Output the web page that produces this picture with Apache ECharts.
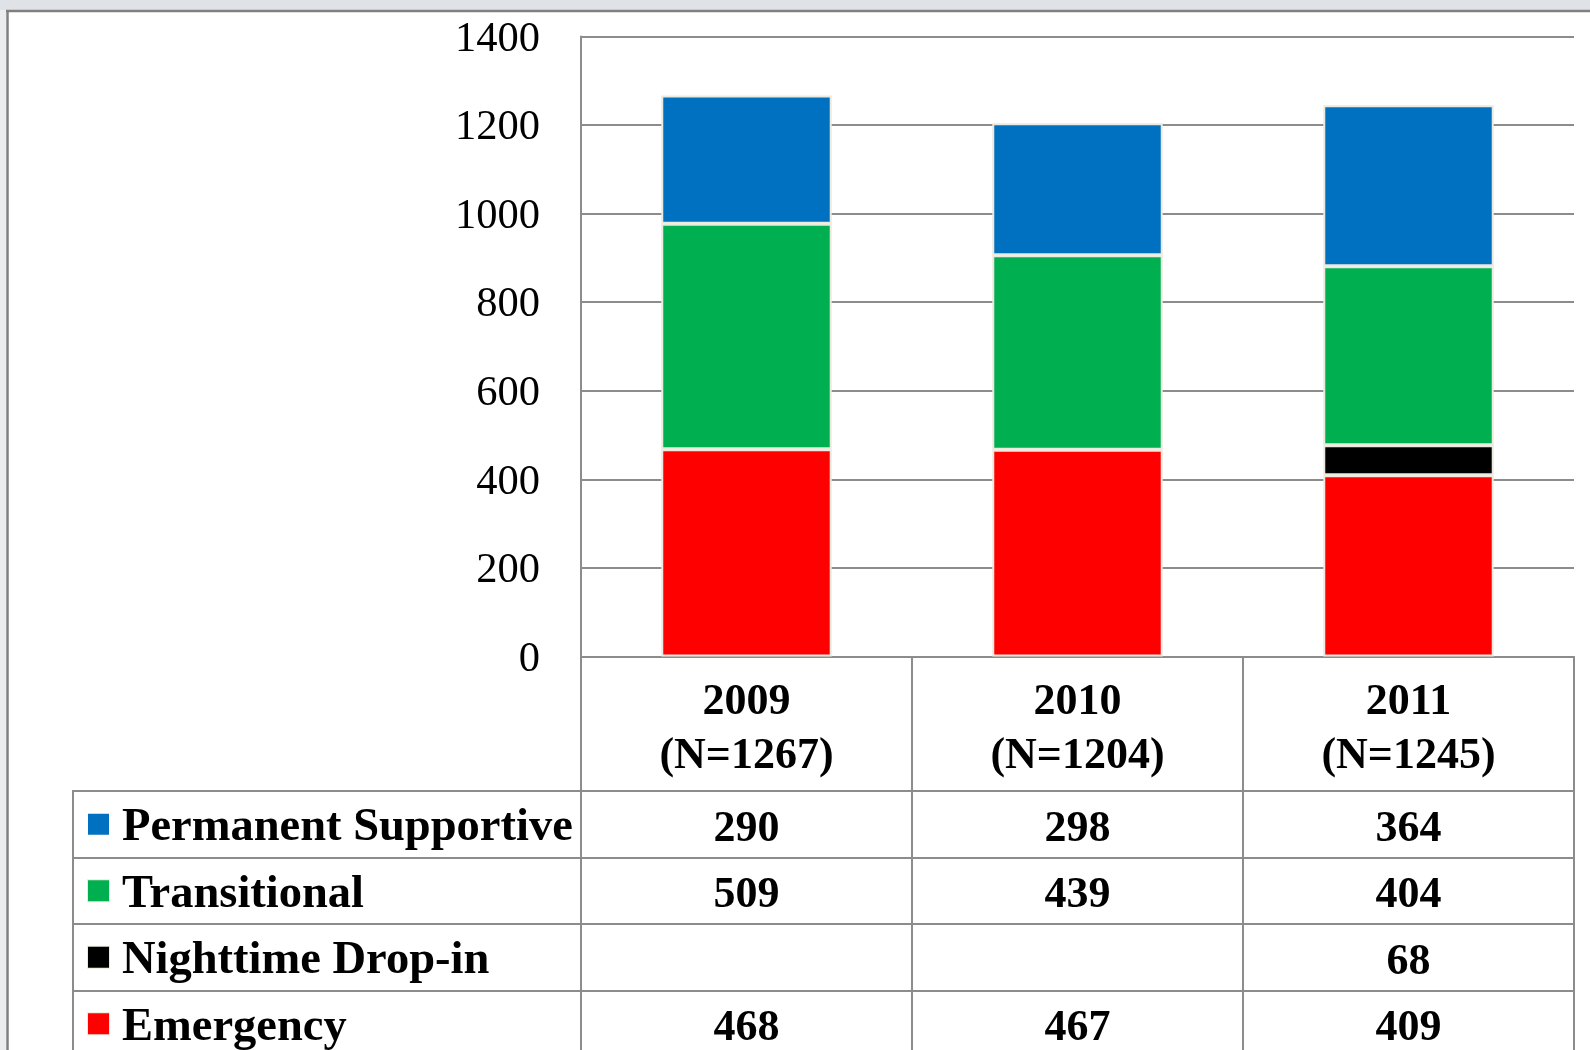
<!DOCTYPE html>
<html>
<head>
<meta charset="utf-8">
<script src="https://cdn.jsdelivr.net/npm/echarts@6/dist/echarts.min.js"></script>
<style>
html,body{margin:0;padding:0;background:#fff;}
#chart{width:1590px;height:1050px;}
</style>
</head>
<body>
<div id="chart"></div>
<script>
// ---- data ----
var years = ['2009', '2010', '2011'];
var nLabels = ['(N=1267)', '(N=1204)', '(N=1245)'];
var yTicks = [0, 200, 400, 600, 800, 1000, 1200, 1400];
var emergency = [468, 467, 409];
var nighttime = [null, null, 68];
var transitional = [509, 439, 404];
var permanent = [290, 298, 364];
var seriesNames = ['Permanent Supportive', 'Transitional', 'Nighttime Drop-in', 'Emergency'];
var seriesColors = { 'Permanent Supportive': '#0070C0', 'Transitional': '#00B050', 'Nighttime Drop-in': '#000000', 'Emergency': '#FF0000' };

var FONT = '"Liberation Serif", "Times New Roman", serif';
var GRID_C = '#8c8c8c';

var chart = echarts.init(document.getElementById('chart'), null, { renderer: 'canvas' });

var rowValues = {
  'Permanent Supportive': permanent,
  'Transitional': transitional,
  'Nighttime Drop-in': nighttime,
  'Emergency': emergency
};

var tableData = [];
seriesNames.forEach(function (name, r) {
  years.forEach(function (y, c) {
    var v = rowValues[name][c];
    if (v != null) tableData.push([c, r, v]);
  });
});

var rowKeys = { 'Permanent Supportive': 'p', 'Transitional': 't', 'Nighttime Drop-in': 'n', 'Emergency': 'e' };
var legendRich = { txt: { fontFamily: FONT, fontSize: 46.5, fontWeight: 'bold', color: '#000', padding: [8, 0, 0, 13] } };
seriesNames.forEach(function (n) {
  legendRich[rowKeys[n]] = { width: 21, height: 21, backgroundColor: seriesColors[n], borderColor: '#ede9dc', borderWidth: n === 'Permanent Supportive' ? 0 : 1 };
});

function barSeries(name, data) {
  return {
    name: name, type: 'bar', stack: 'total', xAxisIndex: 0, yAxisIndex: 0,
    data: data, barWidth: '51.5%',
    itemStyle: { color: seriesColors[name], borderColor: '#ece9df', borderWidth: 2 },
    emphasis: { disabled: true }
  };
}

var option = {
  backgroundColor: '#ffffff',
  animation: false,
  graphic: [
    { type: 'rect', shape: { x: 0, y: 0, width: 1590, height: 10 }, style: { fill: '#dfe3e8' }, silent: true },
    { type: 'rect', shape: { x: 0, y: 10, width: 6, height: 1040 }, style: { fill: '#e9edf0' }, silent: true },
    { type: 'line', shape: { x1: 6, y1: 11, x2: 1590, y2: 11 }, style: { stroke: '#808080', lineWidth: 2.5 }, silent: true },
    { type: 'line', shape: { x1: 7.5, y1: 11, x2: 7.5, y2: 1050 }, style: { stroke: '#808080', lineWidth: 2.5 }, silent: true }
  ],
  grid: [
    { left: 581, width: 993, top: 36.5, height: 620, show: false, outerBoundsMode: 'none', containLabel: false },
    { left: 581, width: 993, top: 791, height: 266, show: true, borderColor: GRID_C, borderWidth: 2, backgroundColor: 'transparent', outerBoundsMode: 'none', containLabel: false },
    { left: 73, width: 508, top: 791, height: 266, show: true, borderColor: GRID_C, borderWidth: 2, backgroundColor: 'transparent', outerBoundsMode: 'none', containLabel: false }
  ],
  xAxis: [
    {
      gridIndex: 0, type: 'category', data: years,
      axisLine: { show: true, lineStyle: { color: GRID_C, width: 2 } },
      axisTick: { show: true, length: 135, lineStyle: { color: GRID_C, width: 2 } },
      axisLabel: {
        margin: 19,
        formatter: function (v, i) { return '{y|' + v + '}\n{y|' + nLabels[i] + '}'; },
        rich: { y: { fontFamily: FONT, fontSize: 44, fontWeight: 'bold', color: '#000', lineHeight: 54 } }
      },
      splitLine: { show: false }
    },
    {
      gridIndex: 1, type: 'category', data: years, position: 'top',
      axisLine: { show: false }, axisTick: { show: false }, axisLabel: { show: false },
      splitLine: { show: true, interval: 0, lineStyle: { color: GRID_C, width: 2 } }
    },
    {
      gridIndex: 2, type: 'value', show: false, min: 0, max: 1
    }
  ],
  yAxis: [
    {
      gridIndex: 0, type: 'value', min: yTicks[0], max: yTicks[yTicks.length - 1], interval: 200,
      axisLine: { show: true, lineStyle: { color: GRID_C, width: 2 } },
      axisTick: { show: false },
      axisLabel: {
        margin: 41,
        formatter: function (v) { return '{v|' + String(v) + '}'; },
        rich: { v: { fontFamily: FONT, fontSize: 42.5, color: '#000', padding: [6, 0, 0, 0] } }
      },
      splitLine: { show: true, lineStyle: { color: GRID_C, width: 2 } }
    },
    {
      gridIndex: 1, type: 'category', data: seriesNames, inverse: true,
      axisLine: { show: false }, axisTick: { show: false }, axisLabel: { show: false },
      splitLine: { show: true, interval: 0, lineStyle: { color: GRID_C, width: 2 } }
    },
    {
      gridIndex: 2, type: 'category', data: seriesNames, inverse: true,
      axisLine: { show: false }, axisTick: { show: false },
      axisLabel: {
        inside: true, margin: 15, align: 'left', interval: 0,
        formatter: function (v) { return '{' + rowKeys[v] + '|}{txt|' + v + '}'; },
        rich: legendRich
      },
      splitLine: { show: true, interval: 0, lineStyle: { color: GRID_C, width: 2 } }
    }
  ],
  series: [
    barSeries('Emergency', emergency),
    barSeries('Nighttime Drop-in', nighttime),
    barSeries('Transitional', transitional),
    barSeries('Permanent Supportive', permanent),
    {
      type: 'scatter', xAxisIndex: 1, yAxisIndex: 1, data: tableData,
      symbol: 'rect', symbolSize: 0, itemStyle: { color: '#000', opacity: 1 },
      label: {
        show: true, position: 'inside', offset: [0, 5],
        formatter: function (p) { return p.value[2]; },
        fontFamily: FONT, fontSize: 44, fontWeight: 'bold', color: '#000', opacity: 1
      },
      emphasis: { disabled: true }, silent: true
    }
  ]
};
chart.setOption(option);
</script>
</body>
</html>
